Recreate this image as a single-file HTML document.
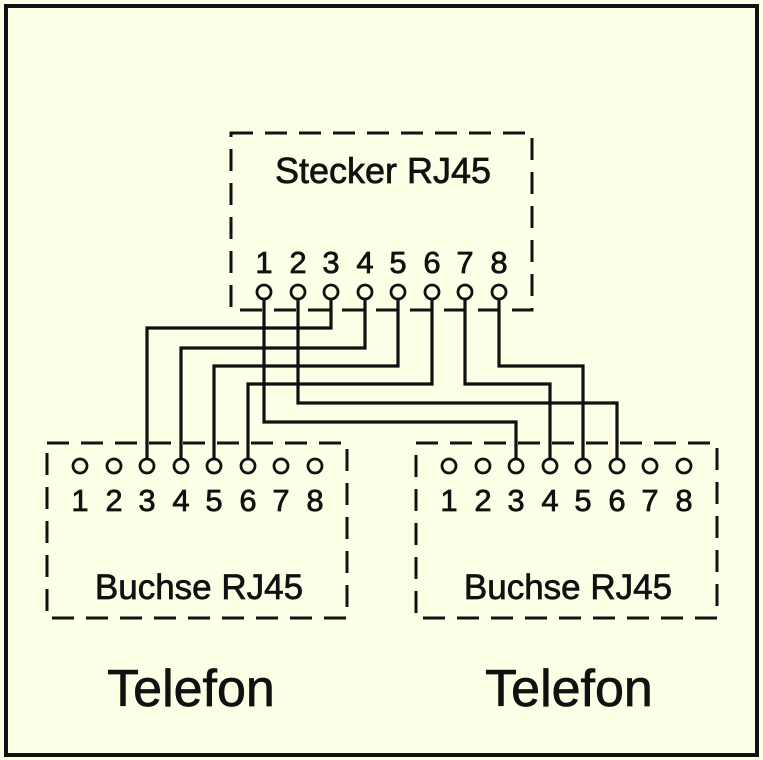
<!DOCTYPE html>
<html><head><style>
html,body{margin:0;padding:0;background:#fbffe6;}
svg{display:block;}
text{font-family:"Liberation Sans",sans-serif;fill:#111;stroke:#111;stroke-width:0.7;}
</style></head><body>
<svg width="763" height="760" viewBox="0 0 763 760">
<rect x="0" y="0" width="763" height="760" fill="#fbffe6"/>
<rect x="6" y="6" width="751" height="749" fill="none" stroke="#111" stroke-width="4"/>
<g fill="none" stroke="#111" stroke-width="3" stroke-dasharray="22,12">
<rect x="231" y="133" width="301" height="177"/>
<rect x="47" y="443" width="300" height="175"/>
<rect x="416" y="443" width="301" height="175"/>
</g>
<g fill="none" stroke="#111" stroke-width="3.2">
<polyline points="331,292 331,328 147,328 147,466"/>
<polyline points="365,292 365,348 181,348 181,466"/>
<polyline points="398,292 398,366 214,366 214,466"/>
<polyline points="432,292 432,384 248,384 248,466"/>
<polyline points="298,292 298,403 617,403 617,466"/>
<polyline points="264,292 264,422 516,422 516,466"/>
<polyline points="465,292 465,384 550,384 550,466"/>
<polyline points="499,292 499,366 583,366 583,466"/>
</g>
<g fill="#fbffe6" stroke="#111" stroke-width="2.8">
<circle cx="264" cy="292" r="7"/><circle cx="298" cy="292" r="7"/><circle cx="331" cy="292" r="7"/><circle cx="365" cy="292" r="7"/><circle cx="398" cy="292" r="7"/><circle cx="432" cy="292" r="7"/><circle cx="465" cy="292" r="7"/><circle cx="499" cy="292" r="7"/>
<circle cx="80" cy="466" r="7"/><circle cx="114" cy="466" r="7"/><circle cx="147" cy="466" r="7"/><circle cx="181" cy="466" r="7"/><circle cx="214" cy="466" r="7"/><circle cx="248" cy="466" r="7"/><circle cx="281" cy="466" r="7"/><circle cx="315" cy="466" r="7"/>
<circle cx="449" cy="466" r="7"/><circle cx="483" cy="466" r="7"/><circle cx="516" cy="466" r="7"/><circle cx="550" cy="466" r="7"/><circle cx="583" cy="466" r="7"/><circle cx="617" cy="466" r="7"/><circle cx="650" cy="466" r="7"/><circle cx="684" cy="466" r="7"/>
</g>
<text x="383" y="183" font-size="36" text-anchor="middle">Stecker RJ45</text>
<g font-size="31" text-anchor="middle">
<text x="264" y="273">1</text><text x="298" y="273">2</text><text x="331" y="273">3</text><text x="365" y="273">4</text><text x="398" y="273">5</text><text x="432" y="273">6</text><text x="465" y="273">7</text><text x="499" y="273">8</text>
<text x="80" y="511">1</text><text x="114" y="511">2</text><text x="147" y="511">3</text><text x="181" y="511">4</text><text x="214" y="511">5</text><text x="248" y="511">6</text><text x="281" y="511">7</text><text x="315" y="511">8</text>
<text x="449" y="511">1</text><text x="483" y="511">2</text><text x="516" y="511">3</text><text x="550" y="511">4</text><text x="583" y="511">5</text><text x="617" y="511">6</text><text x="650" y="511">7</text><text x="684" y="511">8</text>
</g>
<text x="199" y="599" font-size="35" text-anchor="middle">Buchse RJ45</text>
<text x="568" y="599" font-size="35" text-anchor="middle">Buchse RJ45</text>
<text x="191" y="706" font-size="52" text-anchor="middle">Telefon</text>
<text x="569" y="706" font-size="52" text-anchor="middle">Telefon</text>
</svg>
</body></html>
